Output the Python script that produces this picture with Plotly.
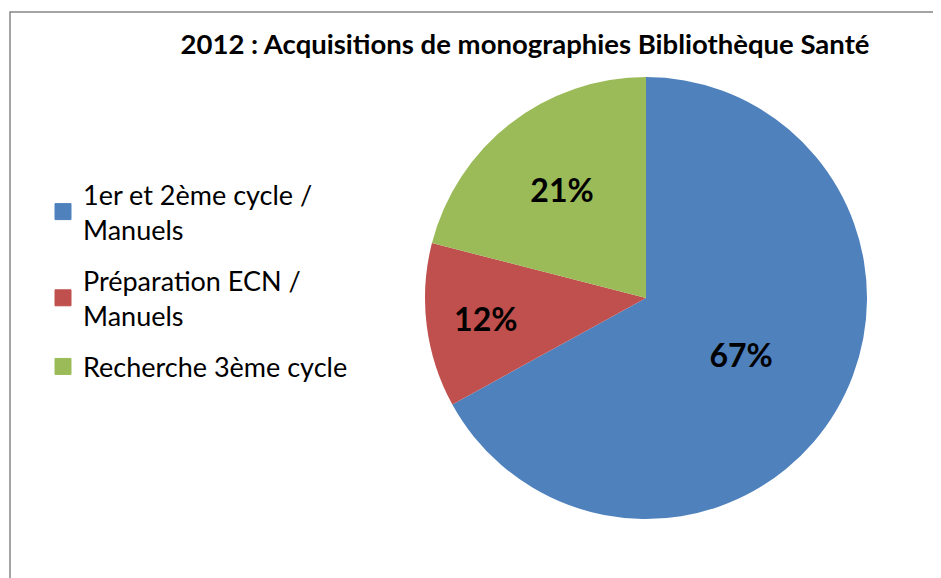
import plotly.graph_objects as go

categories = ["1er et 2ème cycle /<br>Manuels", "Préparation ECN /<br>Manuels", "Recherche 3ème cycle"]
values = [67, 12, 21]
colors = ["#4F81BD", "#C0504D", "#9BBB59"]
title_text = "2012 : Acquisitions de monographies Bibliothèque Santé"

W, H = 941, 578
OFF = 8  # page body margin offset
cx, cy, r = 646 - OFF, 298 - OFF, 221

fig = go.Figure()
fig.add_trace(go.Pie(
    labels=categories, values=values,
    marker=dict(colors=colors, line=dict(width=0)),
    sort=False, direction="clockwise", rotation=0,
    textinfo="percent", texttemplate="%{percent:.0%}",
    textposition="inside", insidetextorientation="horizontal",
    textfont=dict(family="Lato", size=32, color="black", weight="bold"),
    showlegend=False, hoverinfo="label+percent",
    domain=dict(x=[(cx - r) / W, (cx + r) / W], y=[(H - cy - r) / H, (H - cy + r) / H]),
))
for i, (name, col) in enumerate(zip(categories, colors)):
    fig.add_trace(go.Scatter(
        x=[None], y=[None], mode="markers", name=name, legendgroup=f"g{i}",
        marker=dict(symbol="square", size=16, color=col, line=dict(width=1, color=col)),
        showlegend=True,
    ))

fig.update_layout(
    width=W, height=H,
    margin=dict(l=0, r=0, t=0, b=0),
    paper_bgcolor="white", plot_bgcolor="white",
    xaxis=dict(visible=False), yaxis=dict(visible=False),
    title=dict(text=title_text, x=(525 - OFF) / W, xanchor="center", y=1 - (44 - OFF) / H, yanchor="middle",
               font=dict(family="Lato", size=27.5, color="black", weight="bold")),
    legend=dict(x=(43 - OFF) / W, xanchor="left", y=1 - (170 - OFF) / H, yanchor="top",
                font=dict(family="Lato", size=27, color="black"),
                itemsizing="trace", bgcolor="rgba(0,0,0,0)", tracegroupgap=13),
    shapes=[dict(type="rect", xref="paper", yref="paper",
                 x0=(10 - OFF) / W, x1=1.02, y0=-0.02, y1=1 - (12 - OFF) / H,
                 line=dict(color="#878787", width=1.5), fillcolor="rgba(0,0,0,0)", layer="below")],
)

fig.write_html("out.html")
